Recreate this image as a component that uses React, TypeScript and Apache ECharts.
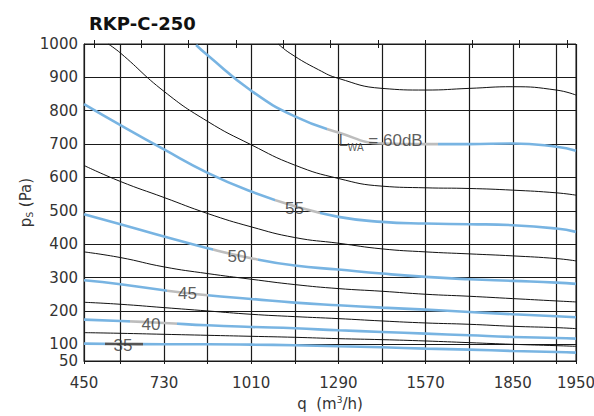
import React, { useEffect, useRef } from 'react';
import * as echarts from 'echarts';

const TITLE = 'RKP-C-250';
const X_MIN = 473;
const X_MAX = 2053;
const Y_MIN = 50;
const Y_MAX = 1000;

const xGridValues = [473, 590, 730, 870, 1010, 1150, 1290, 1430, 1570, 1710, 1850, 1990, 2053];
const xLabelValues = [473, 730, 1010, 1290, 1570, 1850, 2053];
const xLabelTexts = ['450', '730', '1010', '1290', '1570', '1850', '1950'];
const topTickValues = [505, 657, 809, 961, 1113, 1265, 1417, 1569, 1720, 1872, 2024];
const yGridValues = [100, 200, 300, 400, 500, 600, 700, 800, 900, 1000];
const yLabelValues = [50, 100, 200, 300, 400, 500, 600, 700, 800, 900, 1000];

// black (system) curves
const black0 = [[1097, 1000], [1135, 972], [1226, 923], [1290, 897], [1430, 867], [1570, 862], [1710, 867], [1850, 872], [1990, 862], [2053, 847]];
const black1 = [[551, 1000], [590, 973], [730, 858], [870, 768], [1010, 698], [1150, 637], [1290, 597], [1430, 574], [1570, 569], [1710, 567], [1850, 562], [1990, 554], [2053, 547]];
const black2 = [[473, 636], [590, 588], [730, 540], [870, 492], [1010, 452], [1150, 420], [1290, 403], [1430, 386], [1570, 377], [1710, 371], [1850, 365], [1990, 357], [2053, 350]];
const black3 = [[473, 377], [590, 360], [730, 332], [870, 312], [1010, 295], [1150, 279], [1290, 267], [1430, 259], [1570, 250], [1710, 244], [1850, 237], [1990, 230], [2053, 227]];
const black4 = [[473, 226], [590, 220], [730, 210], [870, 200], [1010, 190], [1150, 183], [1290, 177], [1430, 170], [1570, 164], [1710, 160], [1850, 154], [1990, 150], [2053, 147]];
const black5 = [[473, 135], [590, 133], [730, 130], [870, 127], [1010, 124], [1150, 121], [1290, 117], [1430, 114], [1570, 110], [1710, 105], [1850, 100], [1990, 96], [2053, 94]];

// blue LWA curves
const lwa60 = [[833, 997], [870, 966], [1010, 860], [1150, 783], [1290, 735], [1430, 702], [1570, 700], [1710, 700], [1850, 702], [1990, 692], [2053, 680]];
const lwa55 = [[473, 820], [590, 757], [730, 684], [870, 614], [1010, 558], [1150, 514], [1290, 482], [1430, 467], [1570, 462], [1710, 460], [1850, 457], [1990, 447], [2053, 437]];
const lwa50 = [[473, 490], [590, 460], [730, 423], [870, 388], [1010, 358], [1150, 336], [1290, 324], [1430, 312], [1570, 302], [1710, 295], [1850, 290], [1990, 285], [2053, 281]];
const lwa45 = [[473, 292], [590, 280], [730, 262], [870, 247], [1010, 236], [1150, 225], [1290, 217], [1430, 210], [1570, 204], [1710, 197], [1850, 190], [1990, 184], [2053, 181]];
const lwa40 = [[473, 174], [590, 170], [730, 164], [870, 157], [1010, 152], [1150, 148], [1290, 142], [1430, 137], [1570, 132], [1710, 127], [1850, 122], [1990, 119], [2053, 117]];
const lwa35 = [[473, 102], [590, 101], [730, 100], [870, 100], [1010, 99], [1150, 97], [1290, 94], [1430, 91], [1570, 87], [1710, 84], [1850, 80], [1990, 77], [2053, 75]];

const blackCurves = [black0, black1, black2, black3, black4, black5];
const blueCurves = [lwa60, lwa55, lwa50, lwa45, lwa40, lwa35];
// x-ranges where the blue curve turns grey under its label
const grayFrom = [1253, 1087, 888, 739, 621, 540];
const grayTo = [1611, 1231, 1033, 872, 771, 663];
const grayColors = ['#bdbdbd', '#bdbdbd', '#bdbdbd', '#bdbdbd', '#bdbdbd', '#555555'];

// curve annotations
const annoX = [1290, 1149, 964, 805, 688, 598];
const annoY = [712, 507, 362, 253, 160, 97];
const annoText = ['{l|L}{s|WA}{l| = 60dB}', '55', '50', '45', '40', '35'];

const BLUE = '#78b4e2';
const LINE = '#1a1a1a';
const TXT = '#333333';

export default function App() {
  const ref = useRef<HTMLDivElement>(null);
  useEffect(() => {
    if (!ref.current) return;
    const chart = echarts.init(ref.current, null, { renderer: 'svg' });

    const series: any[] = [];
    blackCurves.forEach((d, i) => {
      series.push({
        type: 'line', name: 'sys' + i, data: d, smooth: 0.5, symbol: 'none',
        lineStyle: { color: '#111', width: 1 }, z: 3, xAxisIndex: 0, yAxisIndex: 0,
      });
    });
    const visualMaps: any[] = [];
    blueCurves.forEach((d, i) => {
      const idx = series.length;
      series.push({
        type: 'line', name: 'lwa' + i, data: d, smooth: 0.5, symbol: 'none',
        lineStyle: { width: 2.6 }, z: 4, xAxisIndex: 0, yAxisIndex: 0,
      });
      visualMaps.push({
        type: 'piecewise', show: false, dimension: 0, seriesIndex: idx,
        pieces: [
          { lt: grayFrom[i], color: BLUE },
          { gte: grayFrom[i], lte: grayTo[i], color: grayColors[i] },
          { gt: grayTo[i], color: BLUE },
        ],
      });
    });
    series.push({
      type: 'scatter', name: 'labels', symbolSize: 0, z: 6, xAxisIndex: 0, yAxisIndex: 0,
      silent: true,
      data: annoX.map((x, i) => ({
        value: [x, annoY[i]],
        label: i === 0 ? { align: 'left' } : {},
      })),
      label: {
        show: true, position: 'inside', color: TXT,
        fontFamily: 'Liberation Sans', fontSize: 17,
        formatter: (p: any) => annoText[p.dataIndex],
        rich: {
          l: { fontFamily: 'Liberation Sans', fontSize: 17, color: TXT },
          s: { fontFamily: 'Liberation Sans', fontSize: 10, color: TXT, padding: [15, 0, 0, 0] },
        },
      },
    });

    chart.setOption({
      animation: false,
      backgroundColor: '#ffffff',
      title: {
        text: TITLE, left: 84, top: 9,
        textStyle: { fontFamily: 'DejaVu Sans', fontWeight: 'bold', fontSize: 18, color: '#111' },
      },
      grid: {
        left: 84, right: 18, top: 44, bottom: 55, show: true,
        borderColor: LINE, borderWidth: 1, containLabel: false, outerBoundsMode: 'none',
      },
      visualMap: visualMaps,
      xAxis: [
        {
          type: 'value', min: X_MIN, max: X_MAX, position: 'bottom',
          name: 'q  (m{sup|3}/h)', nameLocation: 'middle', nameGap: 34, nameMoveOverlap: false,
          nameTextStyle: {
            fontFamily: 'DejaVu Sans', fontSize: 15, color: TXT,
            rich: { sup: { fontFamily: 'DejaVu Sans', fontSize: 9, color: TXT, padding: [0, 0, 8, 0] } },
          },
          axisLine: { show: true, lineStyle: { color: LINE, width: 1 } },
          axisTick: { show: true, customValues: xGridValues, length: 3, lineStyle: { color: LINE } },
          splitLine: { show: true, lineStyle: { color: LINE, width: 1.2 } },
          axisLabel: {
            customValues: xLabelValues, margin: 14, color: TXT,
            fontFamily: 'DejaVu Sans', fontSize: 15,
            formatter: (v: number) => {
              const k = xLabelValues.findIndex((x) => Math.abs(x - v) < 1);
              return k >= 0 ? xLabelTexts[k] : '';
            },
          },
        },
        {
          type: 'value', min: X_MIN, max: X_MAX, position: 'top',
          axisLine: { show: false },
          axisTick: { show: true, inside: false, customValues: topTickValues, length: 4, lineStyle: { color: LINE } },
          splitLine: { show: false }, axisLabel: { show: false },
        },
        {
          type: 'value', min: X_MIN, max: X_MAX, position: 'top',
          axisLine: { show: false },
          axisTick: { show: true, inside: true, customValues: topTickValues, length: 4, lineStyle: { color: LINE } },
          splitLine: { show: false }, axisLabel: { show: false },
        },
      ],
      yAxis: {
        type: 'value', min: Y_MIN, max: Y_MAX,
        name: 'p{sub|S} (Pa)', nameLocation: 'middle', nameGap: 50, nameMoveOverlap: false,
        nameTextStyle: {
          fontFamily: 'DejaVu Sans', fontSize: 15, color: TXT,
          rich: { sub: { fontFamily: 'DejaVu Sans', fontSize: 9, color: TXT, padding: [8, 0, 0, 0] } },
        },
        axisLine: { show: true, lineStyle: { color: LINE, width: 1 } },
        axisTick: { show: false, customValues: yGridValues },
        splitLine: { show: true, lineStyle: { color: LINE, width: 1.2 } },
        axisLabel: {
          customValues: yLabelValues, margin: 6, color: TXT,
          fontFamily: 'DejaVu Sans', fontSize: 15,
          formatter: (v: number) => String(v),
        },
      },
      series,
    });
    return () => chart.dispose();
  }, []);
  return (
    <div
      ref={ref}
      style={{ position: 'absolute', left: 0, top: 0, width: 594, height: 416 }}
    />
  );
}
